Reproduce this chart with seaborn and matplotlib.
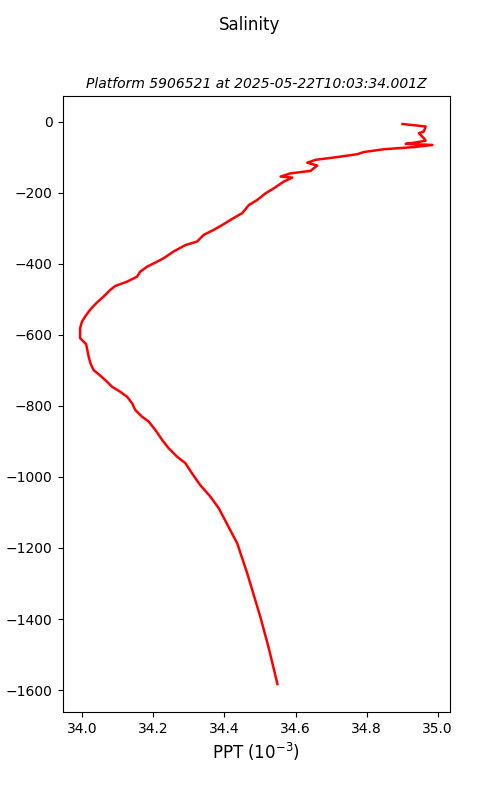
import pandas as pd
import seaborn as sns
from matplotlib import pyplot as plt

# salinity profile (PPT, depth in m)
salinity = [34.901, 34.929, 34.966, 34.961, 34.947, 34.961, 34.966, 34.938, 34.910, 34.985,
            34.933, 34.849, 34.792, 34.774, 34.718, 34.656, 34.633, 34.661, 34.642, 34.586,
            34.558, 34.591, 34.567, 34.539, 34.516, 34.492, 34.469, 34.450, 34.417, 34.398,
            34.370, 34.342, 34.323, 34.290, 34.257, 34.229, 34.210, 34.182, 34.163, 34.154,
            34.126, 34.093, 34.079, 34.060, 34.041, 34.023, 34.009, 33.999, 33.994, 33.994,
            34.011, 34.018, 34.023, 34.032, 34.049, 34.070, 34.084, 34.107, 34.126, 34.140,
            34.149, 34.168, 34.187, 34.206, 34.225, 34.243, 34.267, 34.290, 34.309, 34.332,
            34.361, 34.384, 34.436, 34.464, 34.501, 34.525, 34.549]
depth = [-6, -9, -13, -27, -32, -46, -53, -58, -62, -65,
         -71, -77, -85, -91, -99, -107, -115, -123, -138, -145,
         -154, -157, -168, -187, -201, -220, -234, -257, -276, -288,
         -304, -318, -337, -347, -365, -384, -394, -408, -422, -436,
         -450, -462, -473, -492, -509, -528, -547, -563, -581, -609,
         -626, -661, -680, -699, -713, -732, -746, -760, -774, -792,
         -811, -830, -844, -868, -896, -919, -943, -961, -990, -1023,
         -1056, -1088, -1187, -1271, -1394, -1483, -1583]

profile = pd.DataFrame({"salinity": salinity, "depth": depth})

fig, ax = plt.subplots(figsize=(5, 8), dpi=100)
sns.lineplot(data=profile, x="salinity", y="depth", sort=False, estimator=None,
             color="red", linewidth=1.8, ax=ax)

ax.set_title("Platform 5906521 at 2025-05-22T10:03:34.001Z", fontsize=10, style="italic")
fig.suptitle("Salinity", fontsize=12)
ax.set_xlabel("PPT ($10^{-3}$)", fontsize=12)
ax.set_ylabel("depth (m)")

plt.savefig("out.png", dpi=100)
